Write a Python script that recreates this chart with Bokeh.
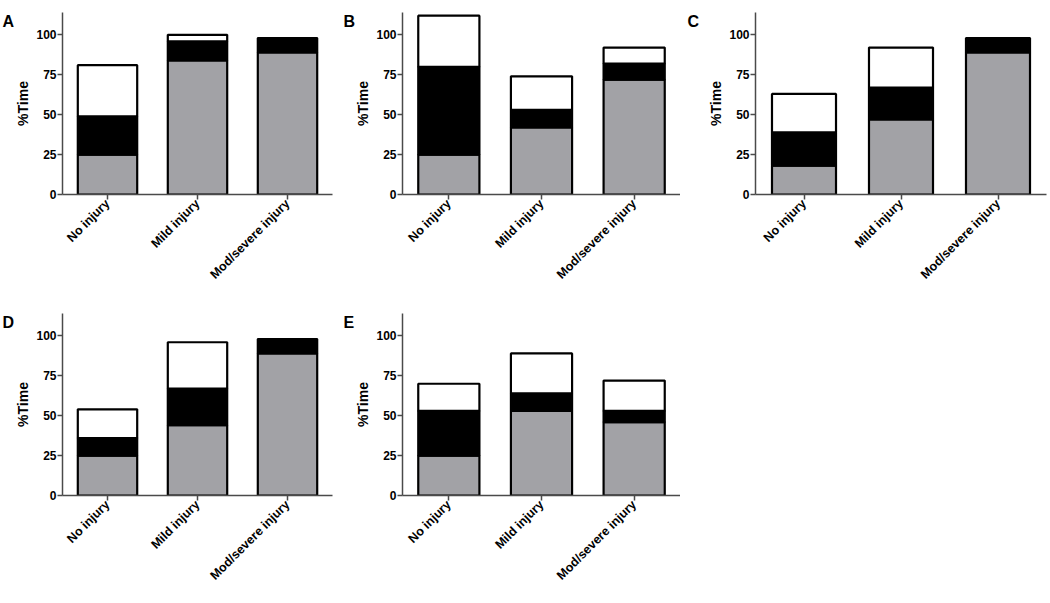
from bokeh.plotting import figure
from bokeh.models import ColumnDataSource, FactorRange, Range1d, Label, FixedTicker
from bokeh.layouts import gridplot
from bokeh.embed import file_html
from bokeh.resources import INLINE
import math

categories = ["No injury", "Mild injury", "Mod/severe injury"]
segments = ["gray", "black", "white"]
y_ticks = [0, 25, 50, 75, 100]
y_label = "%Time"

# segment heights (bottom gray, middle black, top white)
A_gray = [25, 84, 89]
A_black = [24, 12, 9]
A_white = [32, 4, 0]

B_gray = [25, 42, 72]
B_black = [55, 11, 10]
B_white = [32, 21, 10]

C_gray = [18, 47, 89]
C_black = [21, 20, 9]
C_white = [24, 25, 0]

D_gray = [25, 44, 89]
D_black = [11, 23, 9]
D_white = [18, 29, 0]

E_gray = [25, 53, 46]
E_black = [28, 11, 7]
E_white = [17, 25, 19]

FONT = "Liberation Sans"
FILLS = ["#a2a2a6", "#000000", "#ffffff"]


def panel(letter, gray, black, white, width, height, left, right, top, bottom, letter_x):
    src = ColumnDataSource(dict(cat=categories, gray=gray, black=black, white=white))
    p = figure(x_range=FactorRange(*categories), y_range=Range1d(0, 114),
               width=width, height=height, output_backend="svg", toolbar_location=None,
               min_border_left=left, min_border_right=right,
               min_border_top=top, min_border_bottom=bottom)
    p.vbar_stack(segments, x="cat", width=0.66, source=src, color=FILLS,
                 line_color="black", line_width=2.2)
    p.xgrid.visible = False
    p.ygrid.visible = False
    p.outline_line_color = None
    p.background_fill_color = "white"
    p.border_fill_color = "white"
    for ax in (p.xaxis[0], p.yaxis[0]):
        ax.axis_line_color = "#4a4a4a"
        ax.axis_line_width = 1.5
        ax.major_tick_line_color = "#4a4a4a"
        ax.major_tick_line_width = 1.5
        ax.major_tick_out = 5
        ax.major_tick_in = 0
        ax.minor_tick_line_color = None
        ax.major_label_text_font = FONT
        ax.major_label_text_font_style = "bold"
        ax.major_label_text_color = "black"
    p.yaxis.ticker = FixedTicker(ticks=y_ticks)
    p.yaxis.major_label_text_font_size = "12px"
    p.yaxis.major_label_standoff = 1
    p.yaxis.axis_label = y_label
    p.yaxis.axis_label_text_font = FONT
    p.yaxis.axis_label_text_font_style = "bold"
    p.yaxis.axis_label_text_font_size = "14px"
    p.yaxis.axis_label_text_color = "black"
    p.yaxis.axis_label_standoff = 2
    p.xaxis.major_label_orientation = math.pi / 4
    p.xaxis.major_label_text_font_size = "12.5px"
    p.xaxis.major_label_standoff = 2
    p.add_layout(Label(x=letter_x, y=114, x_units="screen", y_units="data", text=letter,
                       text_font=FONT, text_font_style="bold", text_font_size="16px",
                       text_line_height=0.1,
                       text_baseline="top", text_align="left", text_color="black"), "left")
    return p


pA = panel("A", A_gray, A_black, A_white, 340, 298, 50, 8, 12, 102, 2)
pB = panel("B", B_gray, B_black, B_white, 340, 298, 55, 0, 7, 104, 3)
pC = panel("C", C_gray, C_black, C_white, 368, 298, 75, 2, 5, 99, -6)
pD = panel("D", D_gray, D_black, D_white, 340, 303, 52, 8, 15, 104, 2)
pE = panel("E", E_gray, E_black, E_white, 340, 303, 51, 0, 9, 106, 2)

grid = gridplot([[pA, pB, pC], [pD, pE, None]], toolbar_location=None)

open("out.html", "w").write(file_html(grid, INLINE))
